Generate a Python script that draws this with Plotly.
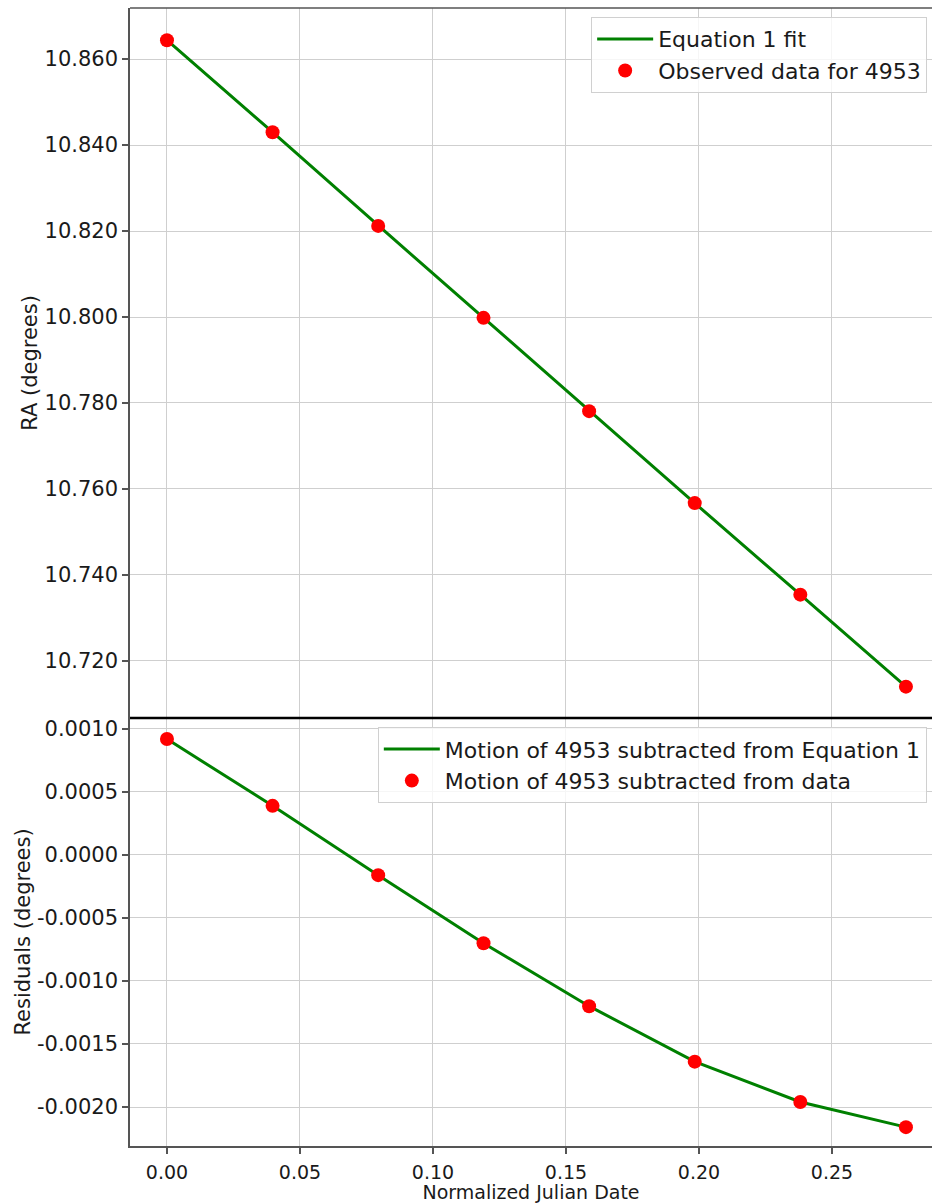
import plotly.graph_objects as go
from plotly.subplots import make_subplots

# ---- data ----
jd = [0.0, 0.0397, 0.0794, 0.1190, 0.1587, 0.1984, 0.2381, 0.2778]
ra_obs = [10.8644, 10.8430, 10.8212, 10.7998, 10.7781, 10.7567, 10.7354, 10.7140]
ra_fit = [10.8644, 10.8430, 10.8213, 10.7998, 10.7782, 10.7567, 10.7354, 10.7140]
res_obs = [0.00092, 0.00039, -0.00016, -0.00070, -0.00120, -0.00164, -0.00196, -0.00216]
res_fit = [0.00092, 0.00039, -0.00016, -0.00070, -0.00120, -0.00164, -0.00196, -0.00216]

ra_ticks = [10.72, 10.74, 10.76, 10.78, 10.80, 10.82, 10.84, 10.86]
res_ticks = [0.0010, 0.0005, 0.0, -0.0005, -0.0010, -0.0015, -0.0020]
x_ticks = [0.00, 0.05, 0.10, 0.15, 0.20, 0.25]

FONT = "DejaVu Sans"
TXT = "#1a1a1a"
GRID = "#cfcfcf"
SPINE = "#555555"

fig = make_subplots(rows=2, cols=1, shared_xaxes=True, vertical_spacing=0,
                    row_heights=[710, 428])

fig.add_trace(go.Scatter(x=jd, y=ra_fit, mode="lines", name="Equation 1 fit",
                         line=dict(color="#008000", width=3), legend="legend"),
              row=1, col=1)
fig.add_trace(go.Scatter(x=jd, y=ra_obs, mode="markers", name="Observed data for 4953",
                         marker=dict(color="#ff0000", size=14), legend="legend"),
              row=1, col=1)
fig.add_trace(go.Scatter(x=jd, y=res_fit, mode="lines",
                         name="Motion of 4953 subtracted from Equation 1",
                         line=dict(color="#008000", width=3), legend="legend2"),
              row=2, col=1)
fig.add_trace(go.Scatter(x=jd, y=res_obs, mode="markers",
                         name="Motion of 4953 subtracted from data",
                         marker=dict(color="#ff0000", size=14), legend="legend2"),
              row=2, col=1)

common_axis = dict(showgrid=True, gridcolor=GRID, gridwidth=1, zeroline=False,
                   ticks="outside", ticklen=6, tickcolor=SPINE, tickwidth=1.5)

fig.update_xaxes(range=[-0.0139, 0.2876], tickvals=x_ticks,
                 ticktext=[f"{v:.2f}" for v in x_ticks],
                 tickfont=dict(family=FONT, size=19, color=TXT), **common_axis)
fig.update_xaxes(showticklabels=False, ticks="", showline=False, row=1, col=1)
fig.update_xaxes(showline=True, linecolor=SPINE, linewidth=1.5, ticklabelstandoff=2,
                 title=dict(text="Normalized Julian Date",
                            font=dict(family=FONT, size=19, color=TXT), standoff=2),
                 row=2, col=1)

fig.update_yaxes(range=[10.7067, 10.8719], tickvals=ra_ticks,
                 ticktext=[f"{v:.3f}" for v in ra_ticks],
                 tickfont=dict(family=FONT, size=21, color=TXT),
                 showline=True, linecolor=SPINE, linewidth=1.5,
                 title=dict(text="RA (degrees)", font=dict(family=FONT, size=21, color=TXT),
                            standoff=1),
                 row=1, col=1, **common_axis)
fig.update_yaxes(range=[-0.0023095, 0.001087], tickvals=res_ticks,
                 ticktext=[("0.0000" if abs(v) < 1e-12 else f"{v:.4f}") for v in res_ticks],
                 tickfont=dict(family=FONT, size=21, color=TXT),
                 showline=True, linecolor=SPINE, linewidth=1.5,
                 title=dict(text="Residuals (degrees)", font=dict(family=FONT, size=21, color=TXT),
                            standoff=1),
                 row=2, col=1, **common_axis)

# spines: top border and the black divider between panels
fig.add_shape(type="line", xref="paper", yref="paper", x0=0, x1=1, y0=1, y1=1,
              line=dict(color=SPINE, width=1.5))
fig.add_shape(type="line", xref="paper", yref="paper", x0=0, x1=1,
              y0=428 / 1138, y1=428 / 1138, line=dict(color="black", width=2.5))

legend_style = dict(font=dict(family=FONT, size=22, color=TXT),
                    bgcolor="rgba(255,255,255,0.8)", bordercolor="#d0d0d0",
                    borderwidth=1, xanchor="left", yanchor="top",
                    tracegroupgap=0, itemwidth=56)

fig.update_layout(
    width=932, height=1203,
    margin=dict(l=130, r=0, t=8, b=57),
    plot_bgcolor="white", paper_bgcolor="white",
    font=dict(family=FONT, color=TXT),
    legend=dict(x=0.575, y=0.992, **legend_style),
    legend2=dict(x=0.309, y=0.368, **legend_style),
)

fig.write_html("out.html")
